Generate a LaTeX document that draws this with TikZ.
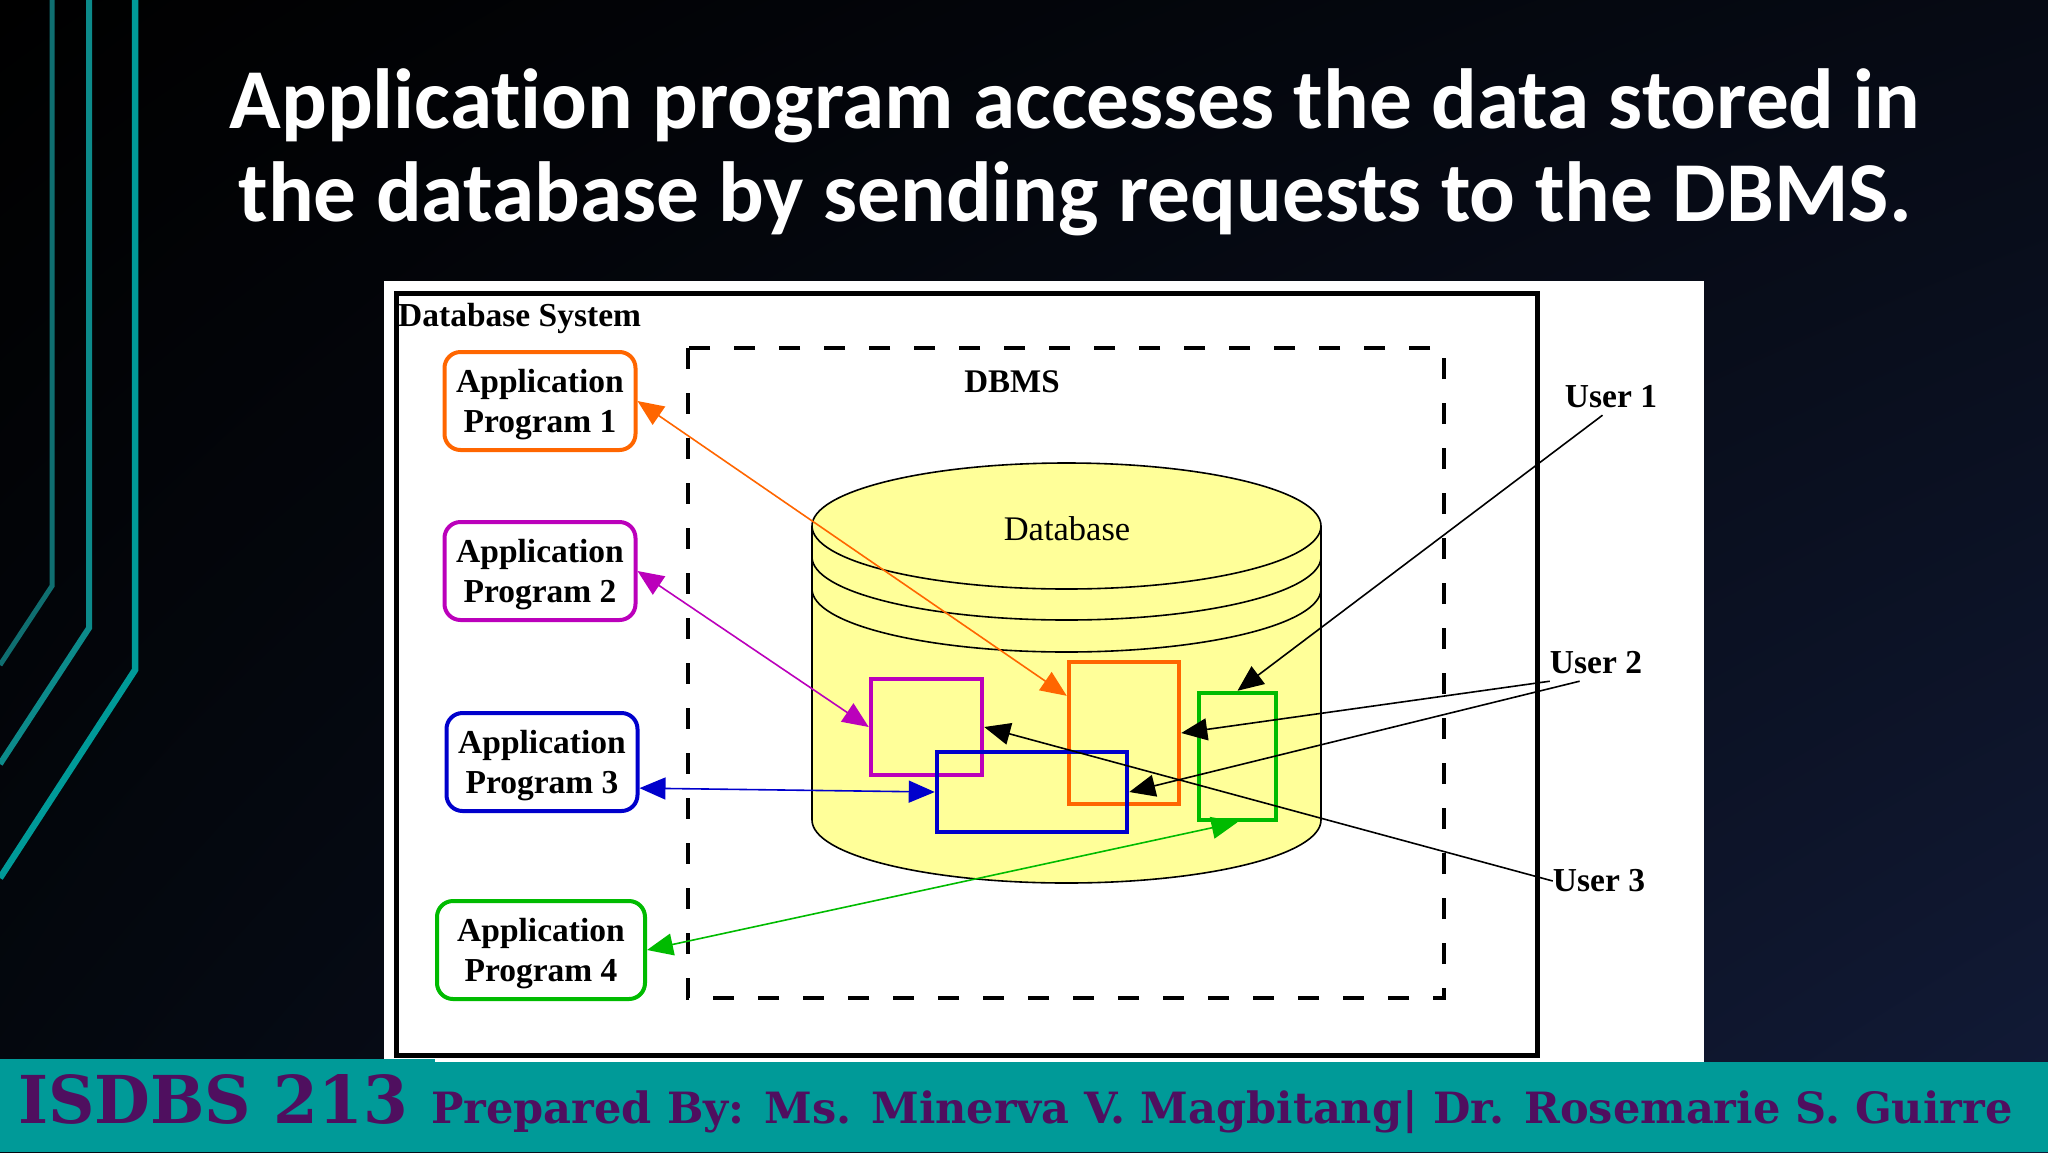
\documentclass[tikz,border=0pt]{standalone}
\usepackage{fontspec}
\usepackage{tikz}
\usetikzlibrary{arrows.meta,shadings}
\setmainfont{Liberation Serif}
\newfontfamily\titlefont[Ligatures=NoCommon]{Carlito}
\newfontfamily\coursefont[FakeStretch=0.975]{DejaVu Serif}
\newfontfamily\footfont{DejaVu Serif}

\definecolor{tealbar}{HTML}{009A98}
\definecolor{tealdark}{HTML}{0F6E70}
\definecolor{tealmid}{HTML}{0C8A8A}
\definecolor{footink}{HTML}{4F0F5F}
\definecolor{cylfill}{HTML}{FFFF99}
\definecolor{progorange}{HTML}{FF6600}
\definecolor{progpurple}{HTML}{BB00BB}
\definecolor{progblue}{HTML}{0000CC}
\definecolor{proggreen}{HTML}{00BB00}
\definecolor{bgtopright}{HTML}{060A14}
\definecolor{bgbotleft}{HTML}{04080F}
\definecolor{bgbotright}{HTML}{121B38}

\tikzset{
  prog/.style={draw, line width=4pt, rounded corners=16pt, minimum width=191pt, minimum height=98pt, inner sep=0pt, align=center, text height=71pt, font=\fontsize{33.5}{40}\selectfont\bfseries},
  part/.style={draw, line width=4.5pt, inner sep=0pt},
  userlabel/.style={inner sep=0pt, minimum height=36pt, font=\fontsize{33.5}{36}\selectfont\bfseries},
  link/.style={line width=1.6pt, >={Triangle[length=26pt,width=22pt]}},
}

\begin{document}
\begin{tikzpicture}[x=1pt, y=-1pt]
\useasboundingbox (0,0) rectangle (2048,1152);

\shade [upper left=black, upper right=bgtopright, lower left=bgbotleft, lower right=bgbotright] (0,0) rectangle (2048,1152);

\draw [line width=5pt, color=tealdark] (52,0) -- (52,586) -- (0,665);
\draw [line width=6pt, color=tealmid] (89,0) -- (89,628) -- (0,764);
\draw [line width=6.5pt, color=tealbar] (135,0) -- (135,670) -- (0,878);

\node [font=\fontsize{85.3}{93}\selectfont\titlefont\bfseries, text=white, align=center] (title) at (1075,152) {Application program accesses the data stored in\\the database by sending requests to the DBMS.};

\fill [white] (384,281) rectangle (1704,1062);
\draw [line width=5pt] (396,293) rectangle (1537,1055);
\node [anchor=west, inner sep=0pt, font=\fontsize{33.5}{36}\selectfont\bfseries] (dbsystem) at (398,318) {Database System};
\draw [line width=4pt, dash pattern=on 21pt off 24pt] (688,348) rectangle (1444,998);
\node [font=\fontsize{33}{36}\selectfont\bfseries] (dbms) at (1012,382) {DBMS};

%cylinder
\filldraw [fill=cylfill, line width=1.6pt] (812,526) arc [start angle=180, end angle=0, x radius=254.5pt, y radius=63pt] -- (1321,820) arc [start angle=0, end angle=-180, x radius=254.5pt, y radius=63pt] -- cycle;
\foreach \level in {526,557,589}
  \draw [line width=1.6pt] (812,\level) arc [start angle=180, end angle=360, x radius=254.5pt, y radius=63pt];
\node [font=\fontsize{34.5}{36}\selectfont] (dbname) at (1067,529) {Database};

\node [prog, color=progorange, text=black] (prog1) at (540,401) {Application\\Program 1};
\node [prog, color=progpurple, text=black] (prog2) at (540,571) {Application\\Program 2};
\node [prog, color=progblue, text=black] (prog3) at (542,762) {Application\\Program 3};
\node [prog, color=proggreen, text=black, minimum width=208pt] (prog4) at (541,950) {Application\\Program 4};

\node [part, color=progpurple, minimum width=111pt, minimum height=96pt] (viewpurple) at (926.5,727) {};
\node [part, color=progorange, minimum width=110pt, minimum height=142pt] (vieworange) at (1124,733) {};
\node [part, color=progblue, minimum width=190pt, minimum height=80pt] (viewblue) at (1032,792) {};
\node [part, color=proggreen, minimum width=77pt, minimum height=127pt] (viewgreen) at (1237.5,756.5) {};

\node [userlabel] (user1) at (1611,397) {User 1};
\node [userlabel] (user2) at (1596,663) {User 2};
\node [userlabel] (user3) at (1599,881) {User 3};

\draw [link, <->, color=progorange] (prog1.east) -- (vieworange.147);
\draw [link, <->, color=progpurple] (prog2.east) -- (viewpurple.west);
\draw [link, <->, color=progblue] (prog3.-15) -- (viewblue.west);
\draw [link, <->, color=proggreen] (prog4.east) -- (viewgreen.south);

\draw [link, ->] (user1.-115) -- (viewgreen.north);
\draw [link, ->] (user2.south west) -- (vieworange.east);
\draw [link, ->] (user2.-132) -- (viewblue.east);
\draw [link, ->] (user3.west) -- (viewpurple.east);

\fill [tealbar] (0,1059) rectangle (435,1152);
\fill [tealbar] (0,1062) rectangle (2048,1152);
\node [anchor=base west, inner sep=0pt, text=footink, font=\fontsize{66}{70}\selectfont\coursefont\bfseries] (course) at (18,1123) {ISDBS 213};
\node [anchor=base west, inner sep=0pt, text=footink, font=\fontsize{43.1}{48}\selectfont\footfont\bfseries] (credits) at (431,1123) {Prepared By: Ms. Minerva V. Magbitang| Dr. Rosemarie S. Guirre};

\end{tikzpicture}
\end{document}
